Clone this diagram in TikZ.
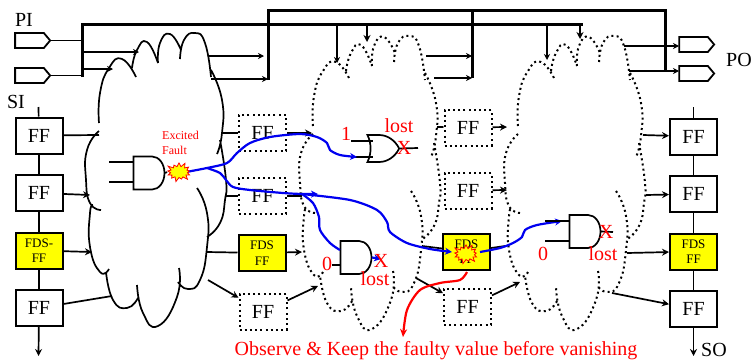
\documentclass[tikz,border=0pt]{standalone}
\usepackage{fontspec}
\setmainfont{Liberation Serif}
\usepackage{tikz}
\usetikzlibrary{arrows.meta,positioning,shapes.symbols,shapes.gates.logic.US}
\usepackage{xcolor}
\definecolor{FaultRed}{HTML}{FF0000}
\definecolor{PathBlue}{HTML}{0000F0}
\definecolor{CellYellow}{HTML}{FFFF00}
\newcommand{\cloudlobes}{
	plot[smooth, tension=0.9] coordinates {(99,123) (100,93) (109,68) (122,59) (136,77)}
	plot[smooth, tension=0.9] coordinates {(132,68) (137,50) (147,42) (158,63)}
	plot[smooth, tension=0.9] coordinates {(158,63) (160,43) (170,34) (181,50)}
	plot[smooth, tension=0.9] coordinates {(180,59) (184,40) (195,33) (205,43) (211,77)}
	plot[smooth, tension=0.9] coordinates {(211,70) (222,100) (222,133) (217,154)}
	plot[smooth, tension=0.9] coordinates {(220,140) (226,180) (225,200) (220,223) (207,237)}
	plot[smooth, tension=0.9] coordinates {(197,188) (207,213) (207,247) (200,280) (188,289) (178,282)}
	plot[smooth, tension=0.9] coordinates {(179,268) (177,297) (158,326) (143,313) (137,285)}
	plot[smooth, tension=0.9] coordinates {(138,298) (127,308) (113,300) (106,272)}
	plot[smooth, tension=0.9] coordinates {(109,269) (100,272) (90,247) (90,213) (93,205)}
	plot[smooth, tension=0.9] coordinates {(101,210) (90,203) (86,180) (87,150) (99,131)}
}

\begin{document}
\begin{tikzpicture}[
				x=1pt, y=-1pt,
				cell/.style={draw=black, line width=2pt, minimum width=47pt, minimum height=36pt,
					inner sep=0pt, align=center, font=\fontsize{20}{20}\selectfont},
				dotcell/.style={cell, line width=2pt, dash pattern=on 2pt off 3.2pt},
				fdscell/.style={cell, fill=CellYellow, font=\fontsize{13}{15.5}\selectfont},
				port/.style={signal, signal to=east, signal pointer angle=100, draw=black, line width=1.8pt,
					minimum width=35pt, minimum height=15pt, inner sep=0pt},
				andgate/.style={and gate US, draw=black, logic gate inputs=nn, line width=1.7pt,
					minimum width=30pt, minimum height=33pt, inner sep=0pt, transform shape, xscale=0.75},
				orgate/.style={or gate US, draw=black, logic gate inputs=nn, line width=1.7pt,
					minimum width=32pt, minimum height=27pt, inner sep=0pt, transform shape, xscale=0.86},
				burst/.style={starburst, starburst points=13, starburst point height=5pt, draw=FaultRed, fill=CellYellow,
					line width=0.8pt, minimum width=27pt, minimum height=21pt, inner sep=0pt},
				cloudsolid/.style={draw=black, line width=1.7pt},
				clouddot/.style={draw=black, line width=2pt, dash pattern=on 2pt off 3.2pt},
				bus/.style={line width=3pt},
				wire/.style={line width=1.1pt},
				arrow/.style={-{Stealth[length=7pt,width=7pt]}, line width=1.7pt},
				thinarrow/.style={-{Stealth[length=6pt,width=6pt]}, line width=1.1pt},
				link/.style={line width=1.7pt},
				bluewire/.style={draw=PathBlue, line width=2.2pt},
				bluearrow/.style={bluewire, -{Stealth[length=7pt,width=7pt]}},
				label/.style={text=black, inner sep=0pt, font=\fontsize{20}{20}\selectfont},
				redlabel/.style={text=FaultRed, inner sep=0pt, font=\fontsize{20}{20}\selectfont}
				]
				\useasboundingbox (0,0) rectangle (752,362);
				\draw[cloudsolid] \cloudlobes;
				\draw[clouddot, shift={(214,3)}] \cloudlobes;
				\draw[clouddot, shift={(419,3)}] \cloudlobes;
				% scan columns
				\node[cell] (lff1) at (39,135.5) {FF};
				\node[cell, below=19.5pt of lff1] (lff2) {FF};
				\node[fdscell, below=19.5pt of lff2] (lfds) {FDS-\\FF};
				\node[cell, below=19.5pt of lfds] (lff4) {FF};
				\node[cell] (rff1) at (693.5,136.5) {FF};
				\node[cell, below=19.5pt of rff1] (rff2) {FF};
				\node[fdscell, below=19.5pt of rff2] (rfds) {FDS\\FF};
				\node[cell, below=19.5pt of rfds] (rff4) {FF};
				\node[dotcell] (mff1) at (262.5,133) {FF};
				\node[dotcell] (mff2) at (262.5,196) {FF};
				\node[fdscell] (mfds) at (262,253) {FDS\\FF};
				\node[dotcell] (mff4) at (263,312) {FF};
				\node[dotcell] (nff1) at (468,127.5) {FF};
				\node[dotcell] (nff2) at (468,190.5) {FF};
				\node[fdscell] (nfds) at (466.5,251.5) {FDS\\FF};
				\node[dotcell] (nff4) at (467.5,307) {FF};
				% ports
				\node[port] (pi1) at (29.5,40.5) {};
				\node[port] (pi2) at (29.5,75.5) {};
				\node[port] (po1) at (693.5,44.5) {};
				\node[port] (po2) at (693.5,73.5) {};
				\node[label] (pilabel) at (24,20) {PI};
				\node[label] (silabel) at (16,102) {SI};
				\node[label, anchor=west] (polabel) at (726,60) {PO};
				\node[label] (solabel) at (714,350) {SO};
				% gates
				\node[andgate] (g1) at (148,173) {};
				\node[orgate] (g2) at (381,148.5) {};
				\node[andgate] (g3) at (355,257.5) {};
				\node[andgate] (g4) at (584,231.5) {};
				% free ends
				\coordinate (busa) at (82,24);
				\coordinate (busb) at (82,77);
				\coordinate (busc) at (583,24);
				\coordinate (busd) at (268,10);
				\coordinate (buse) at (268,80);
				\coordinate (busf) at (665,10);
				\coordinate (busg) at (665,71);
				\coordinate (bush) at (472,10);
				\coordinate (busi) at (472,78);
				\draw[bus] (busb) -- (busa) -- (busc);
				\draw[bus] (buse) -- (busd) -- (busf) -- (busg);
				\draw[bus] (bush) -- (busi);
				\draw[wire] (pi1.east) -- (82,40.5);
				\draw[wire] (pi2.east) -- (82,75.5);
				\foreach \fx/\fy/\tx/\ty in {82/52/139/52, 82/69/113/69, 208/56/264/56, 211/79/268/79,
					337/25/337/63, 547/25/547/60, 426/56/472/56, 434/78/472/78, 624/46/679/46, 629/71/679/71}
					\draw[thinarrow] (\fx,\fy) -- (\tx,\ty);
				\foreach \fx/\tx/\ty in {367/367/42, 580/580/39}
					\draw[arrow] (\fx,25) -- (\tx,\ty);
				% scan chain
				\draw[link] (38.5,107) -- (lff1);
				\draw[link] (693.5,107) -- (rff1);
				\draw[link] (lff1) -- (lff2);
				\draw[link] (lff2) -- (lfds);
				\draw[link] (lfds) -- (lff4);
				\draw[link] (rff1) -- (rff2);
				\draw[link] (rff2) -- (rfds);
				\draw[link] (rfds) -- (rff4);
				\draw[arrow] (lff4) -- (38.5,356);
				\draw[arrow] (rff4) -- (693.5,356);
				% cloud connections
				\foreach \from/\tx/\ty in {lff1/99/135, mff2/302/196, nfds/505/246, lff4/112/296}
					\draw[link] (\from) -- (\tx,\ty);
				\foreach \from/\tx/\ty in {lff2/90/195, lfds/92/252, mff1/312/133, mfds/302/252, mff4/318/286,
					nff1/507/127, nff2/507/190, nff4/520/282}
					\draw[arrow] (\from) -- (\tx,\ty);
				\foreach \fx/\fy/\to in {222/133/mff1, 226/196/mff2, 207/252/mfds, 437/127/nff1, 422/246/nfds}
					\draw[link] (\fx,\fy) -- (\to);
				\foreach \fx/\fy/\to in {208/280/mff4, 416/278/nff4, 643/135/rff1, 646/195/rff2, 627/253/rfds, 612/293/rff4}
					\draw[arrow] (\fx,\fy) -- (\to);
				% gate stubs
				\coordinate (g3a) at (g3.west |- 0,250);
				\draw[link] (109,162) -- (g1.west |- 0,162);
				\draw[link] (109,182) -- (g1.west |- 0,182);
				\draw[link] (g1.output) -- (167,172);
				\draw[link] (351,141) -- ([xshift=3pt]g2.west |- 0,141);
				\draw[link] (351,157) -- ([xshift=3pt]g2.west |- 0,157);
				\draw[link] (g2.output) -- (418,148);
				\draw[link] (332,265) -- (g3.west |- 0,265);
				\draw[link] (g4.output) -- (613,232);
				\draw[link] (545,241) -- (g4.west |- 0,241);
				% fault paths
				\coordinate (split) at (207,168);
				\coordinate (splitb) at (302,194);
				\draw[bluearrow] plot[smooth] coordinates {(186,172) (split) (227,163) (237,153) (250,143) (270,137) (300,134) (317,137) (327,143) (330,150) (340,155) (357,157)};
				\draw[bluearrow] plot[smooth] coordinates {(split) (220,173) (226,180) (233,187) (250,190) (283,193) (splitb) (318,194)};
				\draw[bluearrow] plot[smooth] coordinates {(splitb) (350,200) (377,210) (387,222) (390,232) (407,243) (430,249) (452,252)};
				\draw[bluewire] plot[smooth] coordinates {(splitb) (313,203) (319,217) (320,230) (330,243) (g3a)};
				\draw[bluearrow] (g3.output) -- (381,259);
				\draw[bluearrow] plot[smooth] coordinates {(480,252) (500,248) (513,243) (522,237) (525,230) (537,225) (562,221)};
				\draw[link] (545,221) -- (g4.west |- 0,221);
				\draw[-{Stealth[length=8pt,width=7pt]}, draw=FaultRed, line width=2.2pt] plot[smooth] coordinates {(467,272) (460,280) (440,283) (420,290) (407,310) (403,337)};
				\node[burst] (fault1) at (179,172) {};
				\node[burst] (fault2) at (466,254) {};
				% labels
				\node[text=FaultRed, align=left, anchor=north west, inner sep=0pt, font=\fontsize{12}{15}\selectfont] (excited) at (162,131) {Excited\\Fault};
				\node[redlabel] (one) at (346,134) {1};
				\node[redlabel] (lost1) at (399,126) {lost};
				\node[redlabel] (x1) at (404,148) {X};
				\node[redlabel] (zero1) at (327,264) {0};
				\node[redlabel] (lost2) at (375,279) {lost};
				\node[redlabel] (x2) at (381,261) {X};
				\node[redlabel] (zero2) at (543,254) {0};
				\node[redlabel] (lost3) at (603,254) {lost};
				\node[redlabel] (x3) at (606,232) {X};
				\node[redlabel] (observe) at (436,351) {Observe \& Keep the faulty value before vanishing};
			\end{tikzpicture}
\end{document}
